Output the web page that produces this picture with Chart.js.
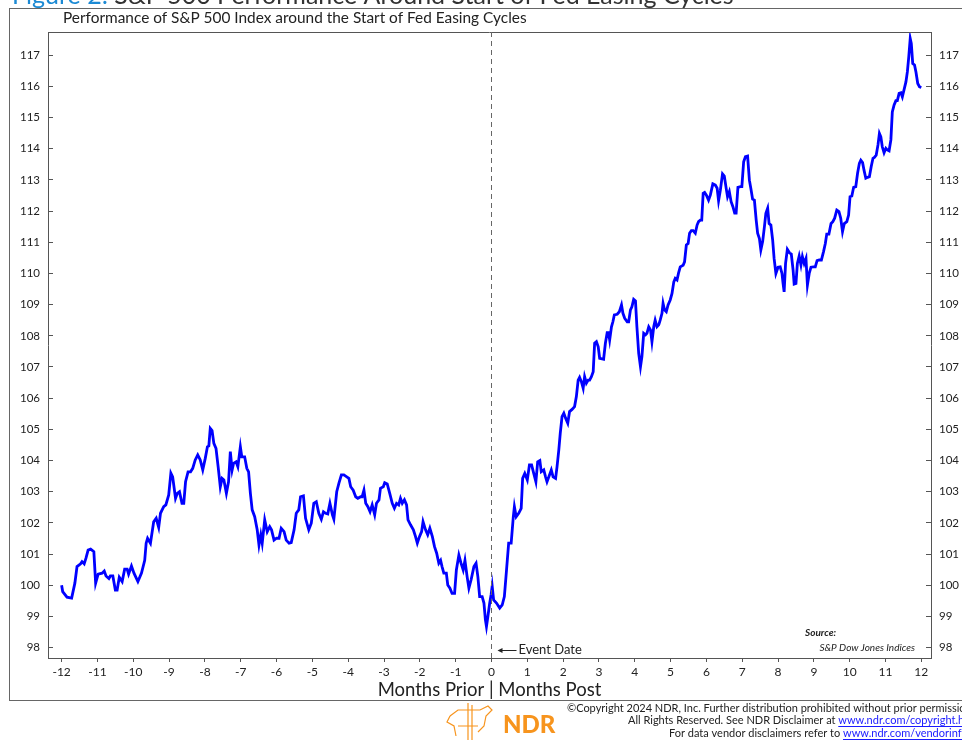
<!DOCTYPE html>
<html>
<head>
<meta charset="utf-8">
<script src="https://cdn.jsdelivr.net/npm/chart.js@4.4.0/dist/chart.umd.min.js"></script>
<style>
  html, body { margin: 0; padding: 0; background: #fff; }
</style>
</head>
<body>
<canvas id="spxChart" width="962" height="740"></canvas>
<script>
// S&P 500 path around the start of Fed easing cycles (month 0 = event, start = 100)
const monthsA = [-12.00,-11.97,-11.85,-11.72,-11.63,-11.57,-11.47,-11.43,-11.37,-11.32,-11.26,-11.19,-11.10,-11.05,-10.98,-10.87,-10.81,-10.76,-10.68,-10.64,
  -10.57,-10.50,-10.45,-10.39,-10.31,-10.24,-10.17,-10.13,-10.05,-9.98,-9.87,-9.77,-9.68,-9.64,-9.60,-9.52,-9.43,-9.36,-9.29,-9.24,
  -9.15,-9.09,-9.01,-8.95,-8.90,-8.82,-8.77,-8.71,-8.64,-8.59,-8.54,-8.47,-8.40,-8.34,-8.27,-8.20,-8.13,-8.06,-7.99,-7.93,
  -7.89,-7.85,-7.80,-7.75,-7.69,-7.63,-7.57,-7.52,-7.47,-7.40,-7.34,-7.29,-7.24,-7.20,-7.13,-7.08,-7.01,-6.97,-6.89,-6.83,
  -6.78,-6.73];
const valuesA = [100.0,99.8,99.62,99.59,100.07,100.6,100.69,100.76,100.69,100.87,101.13,101.16,101.08,100.07,100.36,100.39,100.46,100.3,100.22,100.3,
  100.3,99.85,99.85,100.26,100.12,100.52,100.52,100.36,100.62,100.39,100.12,100.39,100.8,101.35,101.51,101.35,102.04,102.15,101.86,102.31,
  102.52,102.58,102.9,103.6,103.48,102.79,102.95,103.0,102.63,102.63,103.32,103.64,103.64,103.75,104.02,104.18,104.02,103.7,104.07,104.44,
  104.47,105.03,104.96,104.55,104.39,103.8,103.16,103.43,103.38,102.95,103.32,104.29,103.7,103.91,103.96,103.8,104.44,104.12,104.12,103.75,
  103.64,102.95];

const monthsB = [-6.68,-6.61,-6.54,-6.49,-6.44,-6.40,-6.33,-6.26,-6.19,-6.14,-6.07,-6.00,-5.93,-5.87,-5.79,-5.73,-5.65,-5.59,-5.51,-5.45,
  -5.38,-5.33,-5.25,-5.19,-5.10,-5.03,-4.96,-4.89,-4.82,-4.75,-4.69,-4.63,-4.57,-4.51,-4.44,-4.40,-4.32,-4.26,-4.19,-4.12,
  -4.04,-3.98,-3.93,-3.86,-3.79,-3.73,-3.65,-3.61,-3.56,-3.51,-3.45,-3.39,-3.33,-3.26,-3.21,-3.14,-3.10,-3.02,-2.98,-2.91,
  -2.84,-2.77,-2.71,-2.65,-2.59,-2.54,-2.49,-2.43,-2.37,-2.33,-2.26,-2.18,-2.12,-2.07,-2.01,-1.95,-1.91,-1.84,-1.78,-1.72,
  -1.65,-1.59,-1.53,-1.47,-1.42,-1.38,-1.33,-1.26,-1.22,-1.16,-1.10,-1.03,-0.98,-0.91,-0.85,-0.79,-0.74,-0.68,-0.63,-0.57,
  -0.49,-0.43,-0.38,-0.33,-0.26,-0.21,-0.17,-0.14,-0.10,-0.05,-0.01];
const valuesB = [102.42,102.2,101.78,101.29,101.62,101.35,102.1,101.72,101.88,101.78,101.45,101.51,101.51,101.83,101.72,101.45,101.35,101.37,101.78,102.31,
  102.42,102.84,102.87,102.15,101.78,101.99,102.63,102.68,102.31,102.12,102.36,102.31,102.29,102.63,102.26,102.12,103.0,103.27,103.54,103.54,
  103.48,103.43,103.16,103.05,102.84,102.79,102.84,102.84,103.05,102.63,102.52,102.36,102.58,102.26,102.63,102.74,103.11,103.16,103.29,103.25,
  102.95,102.63,102.47,102.63,102.58,102.79,102.63,102.74,102.58,102.1,101.94,101.78,101.56,101.35,101.56,101.72,102.04,101.78,101.62,101.83,
  101.56,101.24,101.03,100.71,100.8,100.6,100.39,100.39,100.01,99.91,99.74,99.74,100.49,100.97,100.71,100.49,100.8,100.28,99.91,100.17,
  100.6,100.71,100.28,99.64,99.64,99.43,98.9,98.68,99.0,99.43,99.7];

const monthsC = [0.02,0.06,0.14,0.23,0.30,0.36,0.42,0.48,0.55,0.61,0.64,0.69,0.76,0.83,0.87,0.93,1.00,1.06,1.12,1.18,
  1.24,1.29,1.35,1.39,1.46,1.51,1.55,1.62,1.67,1.72,1.79,1.83,1.88,1.92,1.97,2.02,2.07,2.13,2.18,2.25,
  2.32,2.37,2.42,2.46,2.51,2.56,2.60,2.65,2.70,2.74,2.79,2.84,2.88,2.93,2.98,3.02,3.09,3.13,3.18,3.23,
  3.27,3.30,3.35,3.39,3.43,3.51,3.57,3.63,3.67,3.72,3.79,3.83,3.88,3.92,3.97,4.02,4.06,4.11,4.16,4.20,
  4.25,4.30,4.34,4.39,4.44,4.48,4.53,4.57,4.62,4.67,4.71,4.76,4.79,4.83,4.88,4.93,4.99,5.04,5.09,5.13,
  5.18,5.22,5.27,5.35,5.39,5.44,5.49,5.53,5.58,5.63,5.69,5.74,5.78,5.83,5.87,5.91,5.95,6.00,6.06,6.11];
const valuesC = [99.97,99.53,99.43,99.27,99.37,99.64,100.49,101.35,101.35,102.2,102.52,102.2,102.31,102.47,103.43,103.59,103.38,103.86,103.86,103.59,
  103.32,103.96,104.0,103.64,103.7,103.48,103.32,103.54,103.7,103.48,103.43,103.8,104.34,104.87,105.41,105.52,105.36,105.2,105.57,105.64,
  105.73,106.05,106.58,106.67,106.53,106.32,106.69,106.48,106.58,106.58,106.69,106.85,107.76,107.81,107.65,107.28,107.26,107.25,107.76,108.1,
  108.1,107.87,108.29,108.45,108.67,108.69,108.77,108.99,108.72,108.56,108.45,108.45,108.83,108.93,109.17,109.12,108.29,107.44,107.01,107.33,
  108.08,108.03,108.08,108.29,108.19,107.81,108.29,108.5,108.29,108.35,108.5,108.72,109.04,108.83,108.77,108.99,109.15,109.36,109.73,109.84,
  109.79,110.0,110.21,110.26,110.37,110.91,110.96,111.29,111.37,111.37,111.29,111.55,111.66,111.71,111.71,112.57,112.6,112.51,112.35,112.51];

const monthsD = [6.18,6.25,6.30,6.34,6.39,6.45,6.50,6.56,6.59,6.64,6.69,6.74,6.79,6.83,6.88,6.95,6.99,7.04,7.09,7.15,
  7.20,7.24,7.29,7.34,7.39,7.43,7.48,7.52,7.57,7.62,7.66,7.71,7.75,7.80,7.85,7.89,7.94,8.00,8.06,8.11,
  8.14,8.17,8.21,8.26,8.32,8.37,8.42,8.45,8.50,8.54,8.59,8.64,8.68,8.73,8.78,8.82,8.87,8.92,8.99,9.04,
  9.09,9.15,9.21,9.27,9.32,9.36,9.42,9.48,9.53,9.58,9.64,9.70,9.75,9.80,9.85,9.92,9.97,10.01,10.06,10.11,
  10.17,10.22,10.27,10.31,10.36,10.40,10.45,10.50,10.55,10.60,10.65,10.69,10.74,10.79,10.83,10.87,10.91,10.96,11.01,11.05,
  11.10,11.15,11.19,11.24,11.29,11.33,11.38,11.43,11.47,11.52,11.57,11.61,11.65,11.69,11.72,11.76,11.81,11.85,11.90,11.95,
  12.00];
const valuesD = [112.87,112.83,112.73,112.33,112.67,113.19,113.12,112.67,112.46,112.62,112.3,112.14,111.93,111.93,112.76,112.78,112.78,113.58,113.74,113.76,
  112.99,112.73,112.38,112.35,111.71,111.29,111.12,110.75,111.02,111.5,111.93,112.09,111.6,111.55,111.07,110.48,110.0,110.2,110.21,110.0,
  109.68,109.41,110.32,110.77,110.66,110.62,110.11,109.66,109.68,110.32,110.56,110.27,110.54,110.32,110.48,109.63,110.0,110.2,110.21,110.21,
  110.41,110.43,110.43,110.7,110.96,111.26,111.26,111.6,111.66,111.77,112.03,111.98,111.77,111.34,111.6,111.66,111.87,112.46,112.48,112.76,
  112.78,113.21,113.53,113.63,113.55,113.31,113.05,113.08,113.1,113.42,113.69,113.72,113.79,114.12,114.49,114.38,114.06,113.87,114.01,113.96,
  113.93,114.28,115.18,115.4,115.54,115.54,115.77,115.79,115.66,115.9,116.14,116.46,116.95,117.53,117.37,116.73,116.68,116.46,116.09,115.98,
  115.96];

const xTicks = [-12,-11,-10,-9,-8,-7,-6,-5,-4,-3,-2,-1,0,1,2,3,4,5,6,7,8,9,10,11,12];
const yTicks = [98,99,100,101,102,103,104,105,106,107,108,109,110,111,112,113,114,115,116,117];

const months = monthsA.concat(monthsB, monthsC, monthsD);
const values = valuesA.concat(valuesB, valuesC, valuesD);
const points = months.map((m, i) => ({ x: m, y: values[i] }));

const FONT = "Lato, 'Open Sans', sans-serif";
const AXIS = "#555";

// frame, titles, event marker, source and footer
const decor = {
  id: "decor",
  beforeDraw(chart) {
    const ctx = chart.ctx;
    ctx.save();
    ctx.fillStyle = "#fff";
    ctx.fillRect(0, 0, chart.width, chart.height);
    ctx.restore();
  },
  afterDraw(chart) {
    const ctx = chart.ctx;
    const area = chart.chartArea;
    const xs = chart.scales.x;
    ctx.save();

    // outer frame
    ctx.strokeStyle = "#666";
    ctx.lineWidth = 1;
    ctx.strokeRect(9.5, 8.5, 970, 692);

    // top border of plot
    ctx.strokeStyle = AXIS;
    ctx.beginPath();
    ctx.moveTo(area.left, area.top + 0.5);
    ctx.lineTo(area.right, area.top + 0.5);
    ctx.stroke();

    // cut-off figure heading
    ctx.font = "25px " + FONT;
    ctx.textBaseline = "alphabetic";
    ctx.textAlign = "left";
    ctx.fillStyle = "#1c8ad4";
    const lead = "Figure 2: ";
    ctx.fillText(lead, 12, 4);
    ctx.fillStyle = "#333";
    ctx.fillText("S&P 500 Performance Around Start of Fed Easing Cycles", 12 + ctx.measureText(lead).width, 4);

    // chart title
    ctx.font = "15.4px " + FONT;
    ctx.textBaseline = "middle";
    ctx.fillStyle = "#222";
    ctx.fillText("Performance of S&P 500 Index around the Start of Fed Easing Cycles", 63, 18);

    // event date line
    const ex = Math.round(xs.getPixelForValue(0)) + 0.5;
    ctx.strokeStyle = "#666";
    ctx.setLineDash([5, 4]);
    ctx.beginPath();
    ctx.moveTo(ex, area.top);
    ctx.lineTo(ex, area.bottom);
    ctx.stroke();
    ctx.setLineDash([]);

    // event date label
    ctx.strokeStyle = "#222";
    ctx.fillStyle = "#222";
    ctx.beginPath();
    ctx.moveTo(ex + 8, 650.5);
    ctx.lineTo(ex + 25, 650.5);
    ctx.stroke();
    ctx.beginPath();
    ctx.moveTo(ex + 6, 650.5);
    ctx.lineTo(ex + 11, 648);
    ctx.lineTo(ex + 11, 653);
    ctx.closePath();
    ctx.fill();
    ctx.font = "13px " + FONT;
    ctx.fillText("Event Date", ex + 27, 650);

    // source
    ctx.font = "italic bold 10px " + FONT;
    ctx.fillText("Source:", 805, 633);
    ctx.font = "italic 10px " + FONT;
    ctx.textAlign = "right";
    ctx.fillText("S&P Dow Jones Indices", 915, 648);

    // footer
    ctx.textAlign = "left";
    ctx.font = "11px " + FONT;
    ctx.fillStyle = "#222";
    ctx.fillText("\u00A9Copyright 2024 NDR, Inc. Further distribution prohibited without prior permission.", 567, 708);
    const footerLine = (text, link, x, y) => {
      ctx.fillStyle = "#222";
      ctx.fillText(text, x, y);
      const lx = x + ctx.measureText(text).width;
      ctx.fillStyle = "#1a1aff";
      ctx.fillText(link, lx, y);
      const w = ctx.measureText(link).width;
      ctx.strokeStyle = "#1a1aff";
      ctx.beginPath();
      ctx.moveTo(lx, y + 6.5);
      ctx.lineTo(lx + w, y + 6.5);
      ctx.stroke();
    };
    footerLine("All Rights Reserved. See NDR Disclaimer at ", "www.ndr.com/copyright.html", 628, 720);
    footerLine("For data vendor disclaimers refer to ", "www.ndr.com/vendorinfo/", 669, 733);

    // NDR logo
    ctx.fillStyle = "#f7941d";
    ctx.font = "900 24px " + FONT;
    ctx.fillText("NDR", 503, 725);
    ctx.strokeStyle = "#f7941d";
    ctx.lineWidth = 1.2;
    ctx.beginPath();
    ctx.moveTo(468, 703); ctx.lineTo(468, 740);
    ctx.moveTo(472, 705); ctx.lineTo(472, 740);
    ctx.moveTo(450, 716); ctx.lineTo(458, 710); ctx.lineTo(480, 710); ctx.lineTo(488, 706);
    ctx.lineTo(492, 710); ctx.lineTo(486, 716); ctx.lineTo(484, 726); ctx.lineTo(478, 732);
    ctx.moveTo(450, 716); ctx.lineTo(447, 722); ctx.lineTo(454, 726); ctx.lineTo(456, 736);
    ctx.moveTo(458, 726); ctx.lineTo(478, 726);
    ctx.stroke();

    ctx.restore();
  },
};

new Chart(document.getElementById("spxChart"), {
  type: "line",
  data: {
    datasets: [
      {
        label: "S&P 500",
        data: points,
        borderColor: "#0000ff",
        borderWidth: 2.8,
        pointRadius: 0,
        tension: 0,
        fill: false,
      },
    ],
  },
  options: {
    responsive: false,
    devicePixelRatio: 1,
    animation: false,
    layout: { padding: { top: 32, left: 0, right: 0, bottom: 39 } },
    plugins: {
      legend: { display: false },
      tooltip: { enabled: false },
    },
    scales: {
      x: {
        type: "linear",
        min: -12.38,
        max: 12.27,
        afterBuildTicks: (scale) => { scale.ticks = xTicks.map((v) => ({ value: v })); },
        afterFit: (scale) => { scale.height = 43; },
        grid: { drawOnChartArea: false, tickLength: 4, color: AXIS },
        border: { color: AXIS, width: 1 },
        ticks: { padding: 3, color: "#222", font: { family: FONT, size: 12 }, maxRotation: 0 },
        title: {
          display: true,
          text: "Months Prior | Months Post",
          color: "#222",
          font: { family: FONT, size: 18.5 },
          padding: { top: 0, bottom: 0 },
        },
      },
      y: {
        position: "left",
        min: 97.67,
        max: 117.74,
        afterBuildTicks: (scale) => { scale.ticks = yTicks.map((v) => ({ value: v })); },
        afterFit: (scale) => { scale.width = 48; },
        grid: { drawOnChartArea: false, tickLength: -5, color: AXIS },
        border: { color: AXIS, width: 1 },
        ticks: { padding: 13, color: "#222", font: { family: FONT, size: 11.5 } },
      },
      y2: {
        position: "right",
        min: 97.67,
        max: 117.74,
        afterBuildTicks: (scale) => { scale.ticks = yTicks.map((v) => ({ value: v })); },
        afterFit: (scale) => { scale.width = 31; },
        grid: { drawOnChartArea: false, tickLength: -5, color: AXIS },
        border: { color: AXIS, width: 1 },
        ticks: { padding: 13, color: "#222", font: { family: FONT, size: 11.5 } },
      },
    },
  },
  plugins: [decor],
});
</script>
</body>
</html>
